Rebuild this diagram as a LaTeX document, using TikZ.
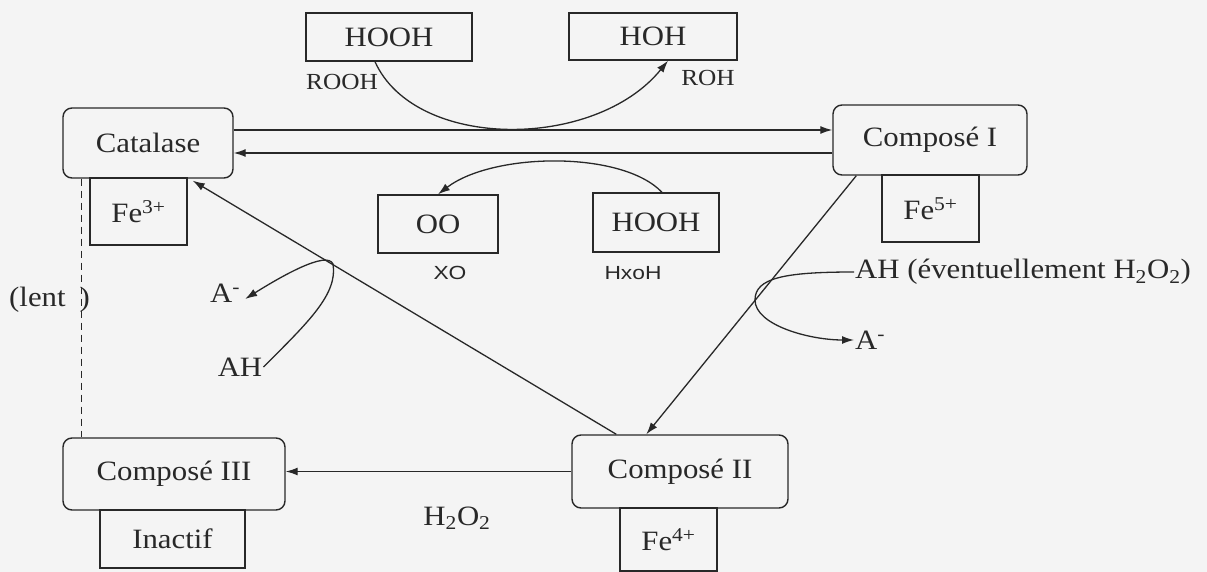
\documentclass[tikz,border=0pt]{standalone}
\usepackage{fontspec}
\setmainfont[FakeStretch=1.1]{Liberation Serif}
\newfontfamily\lblsans[FakeStretch=1.2]{Liberation Sans}
\usetikzlibrary{arrows.meta,calc}
\definecolor{ink}{RGB}{40,40,40}
\definecolor{paper}{RGB}{244,244,244}
\begin{document}
\begin{tikzpicture}[x=1pt,y=-1pt,
  every node/.style={text=ink},
  rbox/.style={draw=ink,line width=1.4pt,rounded corners=9pt,font=\fontsize{28}{32}\selectfont,inner sep=0pt},
  sbox/.style={draw=ink,line width=1.4pt,font=\fontsize{28}{32}\selectfont,inner sep=0pt},
  lbl/.style={font=\fontsize{28}{32}\selectfont,inner sep=1pt},
  slbl/.style={font=\fontsize{23}{27}\selectfont,inner sep=0pt},
  sans/.style={font=\lblsans\fontsize{19}{23}\selectfont,inner sep=0pt},
  conn/.style={draw=ink,line width=1.3pt},
  arr/.style={conn,-{Latex[length=12pt,width=8pt]}}]
\fill[paper] (0,0) rectangle (1207,572);
\useasboundingbox (0,0) rectangle (1207,572);

% top boxes
\node[sbox,minimum width=166pt,minimum height=48pt] (h1) at (389,37) {HOOH};
\node[sbox,minimum width=168pt,minimum height=47pt] (h2) at (653,36.5) {HOH};
\node[slbl] (rooh) at (342,82) {ROOH};
\node[slbl] (roh) at (708,78) {ROH};

% middle boxes
\node[sbox,minimum width=120pt,minimum height=58pt] (oo) at (438,224) {OO};
\node[sbox,minimum width=126pt,minimum height=59pt] (hm) at (656,222.5) {HOOH};
\node[sans] (xo) at (450,273) {XO};
\node[sans] (hxoh) at (633,273) {HxoH};

% main boxes
\node[sbox,minimum width=97pt,minimum height=67pt] (fe3) at (138.5,211.5) {Fe\textsuperscript{3+}};
\node[rbox,minimum width=170pt,minimum height=70pt] (cat) at (148,143) {Catalase};
\node[sbox,minimum width=97pt,minimum height=67pt] (fe5) at (930.5,208.5) {Fe\textsuperscript{5+}};
\node[rbox,minimum width=194pt,minimum height=70pt] (c1) at (930,140) {Composé I};
\node[sbox,minimum width=97pt,minimum height=63pt] (fe4) at (668.5,539.5) {Fe\textsuperscript{4+}};
\node[rbox,minimum width=216pt,minimum height=73pt] (c2) at (680,471.5) {Composé II};
\node[sbox,minimum width=145pt,minimum height=58pt] (ina) at (172.5,539) {Inactif};
\node[rbox,minimum width=222pt,minimum height=72pt] (c3) at (174,474) {Composé III};

% labels
\node[lbl,anchor=west] (lent) at (8,300) {(lent\hspace{14pt})};
\node[lbl] (amL) at (225,293) {A\textsuperscript{-}};
\node[lbl] (ahL) at (240,367) {AH};
\node[lbl,anchor=west] (ahR) at (854,272) {AH (éventuellement H\textsubscript{2}O\textsubscript{2})};
\node[lbl,anchor=west] (amR) at (854,340) {A\textsuperscript{-}};
\node[lbl] (h2o2) at (457,518) {H\textsubscript{2}O\textsubscript{2}};

\coordinate (loopL) at (333,264);
\coordinate (loopR) at (755,300);

% connectors
\draw[arr] ([yshift=13pt]cat.east) -- ([yshift=13pt]cat.east -| c1.west);
\draw[arr] ([yshift=-13pt]c1.west) -- ([yshift=-13pt]c1.west -| cat.east);
\draw[arr] ([xshift=24pt]c1.south west) -- ([xshift=75pt]c2.north west);
\draw[arr] ([xshift=45pt]c2.north west) -- ([xshift=-41pt,yshift=-2pt]cat.south east);
\draw[arr] (c2.west) -- (c2.west -| c3.east);
\draw[conn,dash pattern=on 7pt off 5pt] ([xshift=19pt]cat.south west) -- ([xshift=19pt]c3.north west);

\draw[arr] ([xshift=-14pt]h1.south) .. controls +(40,89) and +(-73,90) .. ([xshift=15pt]h2.south);
\draw[arr] ([xshift=6pt]hm.north) .. controls +(-40,-42) and +(55,-42) .. (oo.north);

\draw[arr] (ahL.east) .. controls +(45,-45) and +(5,30) .. (loopL)
  .. controls +(-6,-14) and +(35,-22) .. ([xshift=4pt,yshift=-6pt]amL.east);
\draw[arr] (ahR.west) .. controls +(-70,0) and +(0,-22) .. (loopR)
  .. controls +(0,25) and +(-45,0) .. (amR.west);
\end{tikzpicture}
\end{document}
